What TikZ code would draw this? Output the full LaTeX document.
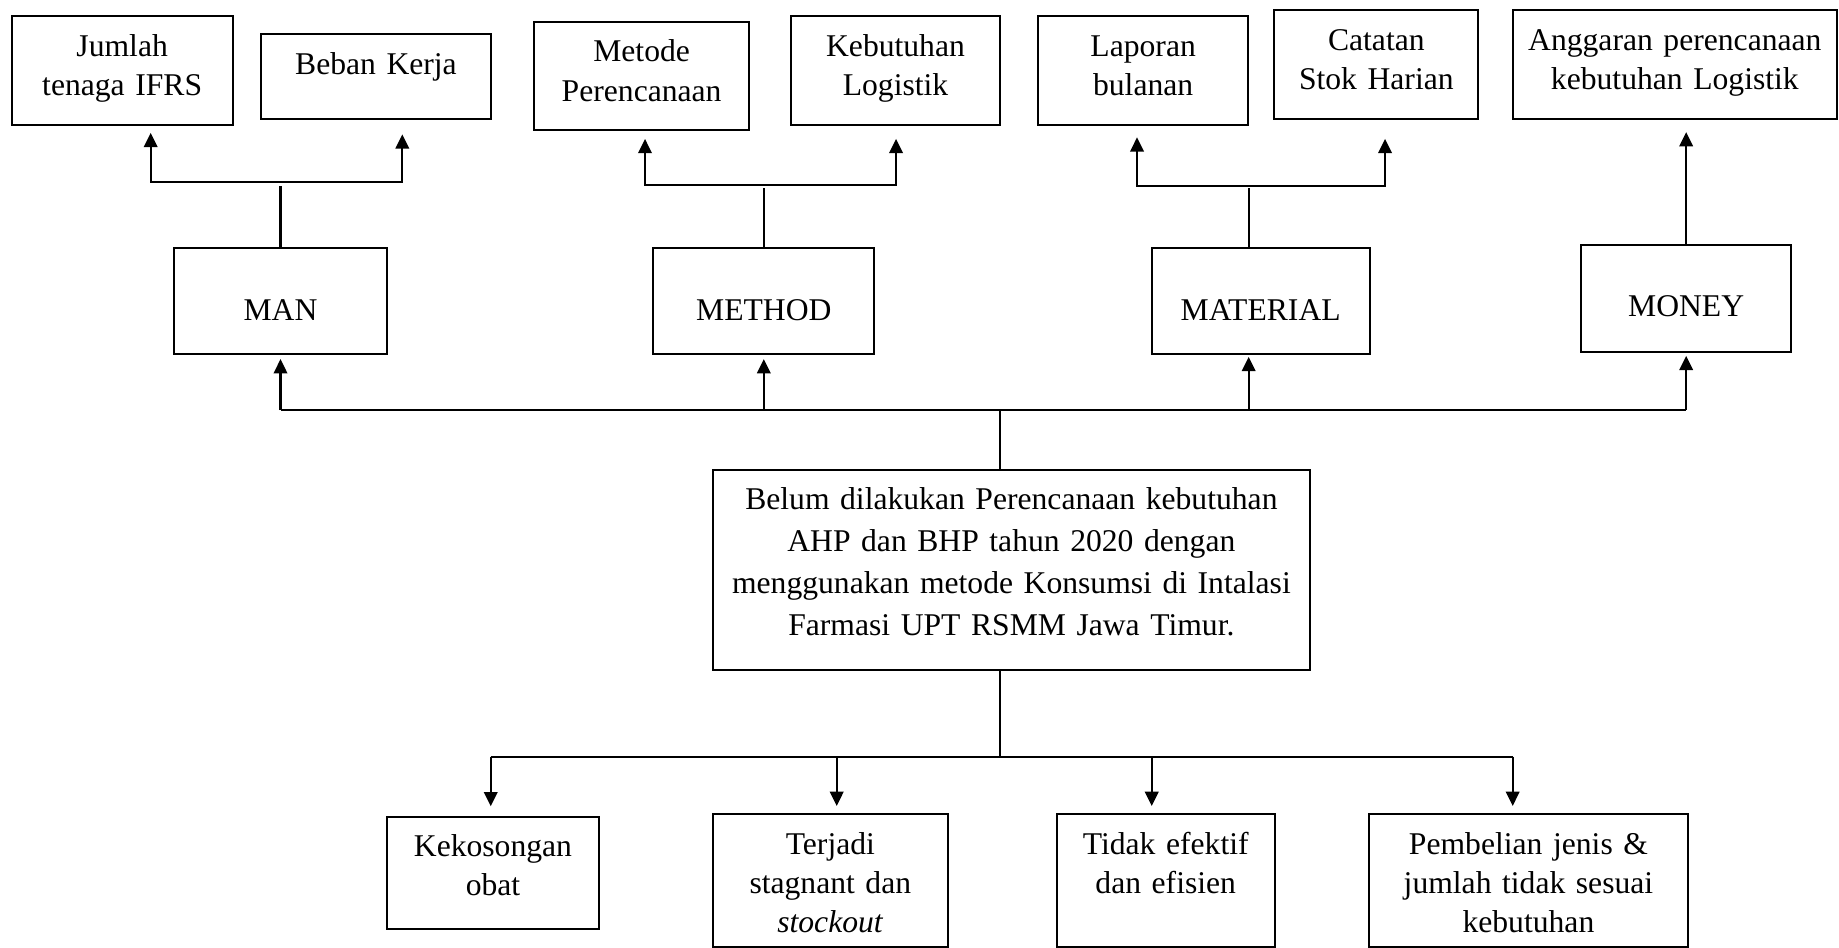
\documentclass[tikz,border=0pt]{standalone}
\usepackage{fontspec}
\setmainfont{Liberation Serif}
\usetikzlibrary{arrows.meta}

\tikzset{
  box/.style={draw, anchor=north, inner sep=0pt, align=center, text height=0.533cm},
  midbox/.style={box, text height=0.96cm}
}

\begin{document}
\begin{tikzpicture}[line width=0.8pt, >={Triangle[length=0.19cm,width=0.18cm]},
  font=\fontsize{12pt}{14.9pt}\selectfont]
\useasboundingbox (0,0) rectangle (24.52,-12.627);

% top row
\node[box, text width=2.947cm, text depth=0.92cm] (jumlah) at (1.629,-0.2) {Jumlah\\tenaga IFRS};
\node[box, text width=3.067cm, text depth=0.596cm] (beban) at (5.013,-0.444) {Beban Kerja};
\node[box, text width=2.871cm, text depth=0.915cm] (metode) at (8.555,-0.276) {Metode\\Perencanaan};
\node[box, text width=2.795cm, text depth=0.92cm] (logistik) at (11.94,-0.2) {Kebutuhan\\Logistik};
\node[box, text width=2.796cm, text depth=0.92cm] (laporan) at (15.242,-0.2) {Laporan\\bulanan};
\node[box, text width=2.72cm, text depth=0.916cm] (catatan) at (18.351,-0.124) {Catatan\\Stok Harian};
\node[box, text width=4.324cm, text depth=0.916cm] (anggaran) at (22.331,-0.124) {Anggaran perencanaan\\kebutuhan Logistik};

% 4M
\node[midbox, text width=2.84cm, text depth=0.453cm] (man) at (3.74,-3.297) {MAN};
\node[midbox, text width=2.947cm, text depth=0.453cm] (method) at (10.184,-3.297) {METHOD};
\node[midbox, text width=2.907cm, text depth=0.453cm] (material) at (16.809,-3.297) {MATERIAL};
\node[midbox, text height=0.943cm, text width=2.804cm, text depth=0.476cm] (money) at (22.482,-3.257) {MONEY};

% masalah
\node[box, font=\fontsize{12pt}{15.9pt}\selectfont, text height=0.524cm, text width=7.964cm, text depth=2.147cm] (masalah) at (13.485,-6.253)
  {Belum dilakukan Perencanaan kebutuhan\\AHP dan BHP tahun 2020 dengan\\menggunakan metode Konsumsi di Intalasi\\Farmasi UPT RSMM Jawa Timur.};

% akibat
\node[box, text height=0.52cm, text width=2.835cm, text depth=0.969cm] (kosong) at (6.573,-10.88) {Kekosongan\\obat};
\node[box, text height=0.54cm, text width=3.137cm, text depth=1.237cm] (stagnan) at (11.071,-10.836) {Terjadi\\stagnant dan\\\textit{stockout}};
\node[box, text height=0.54cm, text width=2.907cm, text depth=1.237cm] (efektif) at (15.543,-10.836) {Tidak efektif\\dan efisien};
\node[box, text height=0.54cm, text width=4.243cm, text depth=1.237cm] (pembelian) at (20.379,-10.836) {Pembelian jenis \&\\jumlah tidak sesuai\\kebutuhan};

\coordinate (manL) at (2.009,-2.427);
\coordinate (manR) at (5.364,-2.427);
\coordinate (metL) at (8.6,-2.467);
\coordinate (metR) at (11.947,-2.467);
\coordinate (matL) at (15.16,-2.476);
\coordinate (matR) at (18.467,-2.476);
\coordinate (bus) at (13.333,-5.467);
\coordinate (matx) at (16.649,-5.467);
\coordinate (d1) at (6.543,-10.089);
\coordinate (d2) at (11.156,-10.089);
\coordinate (d3) at (15.356,-10.089);
\coordinate (d4) at (20.169,-10.089);

\draw[<->, shorten <=0.09cm, shorten >=0.19cm] (manL |- jumlah.south) -- (manL) -- (manR) -- (manR |- beban.south);
\draw[shorten >=0.05cm] (man.north) -- (man.north |- manL);
\draw[<->, shorten <=0.1cm, shorten >=0.17cm] (metL |- metode.south) -- (metL) -- (metR) -- (metR |- logistik.south);
\draw[shorten >=0.04cm] (method.north) -- (method.north |- metL);
\draw[<->, shorten <=0.15cm, shorten >=0.25cm] (matL |- laporan.south) -- (matL) -- (matR) -- (matR |- catatan.south);
\draw[shorten >=0.03cm] (matx |- material.north) -- (matx |- matL);
\draw[->, shorten >=0.16cm] (money.north) -- (money.north |- anggaran.south);

\draw (man.south |- bus) -- (money.south |- bus);
\draw[->, shorten >=0.05cm] (man.south |- bus) -- (man.south);
\draw[->, shorten >=0.05cm] (method.south |- bus) -- (method.south);
\draw[->, shorten >=0.02cm] (matx) -- (matx |- material.south);
\draw[->, shorten >=0.04cm] (money.south |- bus) -- (money.south);
\draw (bus) -- (bus |- masalah.north);

\draw (bus |- masalah.south) -- (bus |- d1);
\draw (d1) -- (d4);
\draw[->, shorten >=0.13cm] (d1) -- (d1 |- kosong.north);
\draw[->, shorten >=0.09cm] (d2) -- (d2 |- stagnan.north);
\draw[->, shorten >=0.09cm] (d3) -- (d3 |- efektif.north);
\draw[->, shorten >=0.09cm] (d4) -- (d4 |- pembelian.north);

\end{tikzpicture}
\end{document}
